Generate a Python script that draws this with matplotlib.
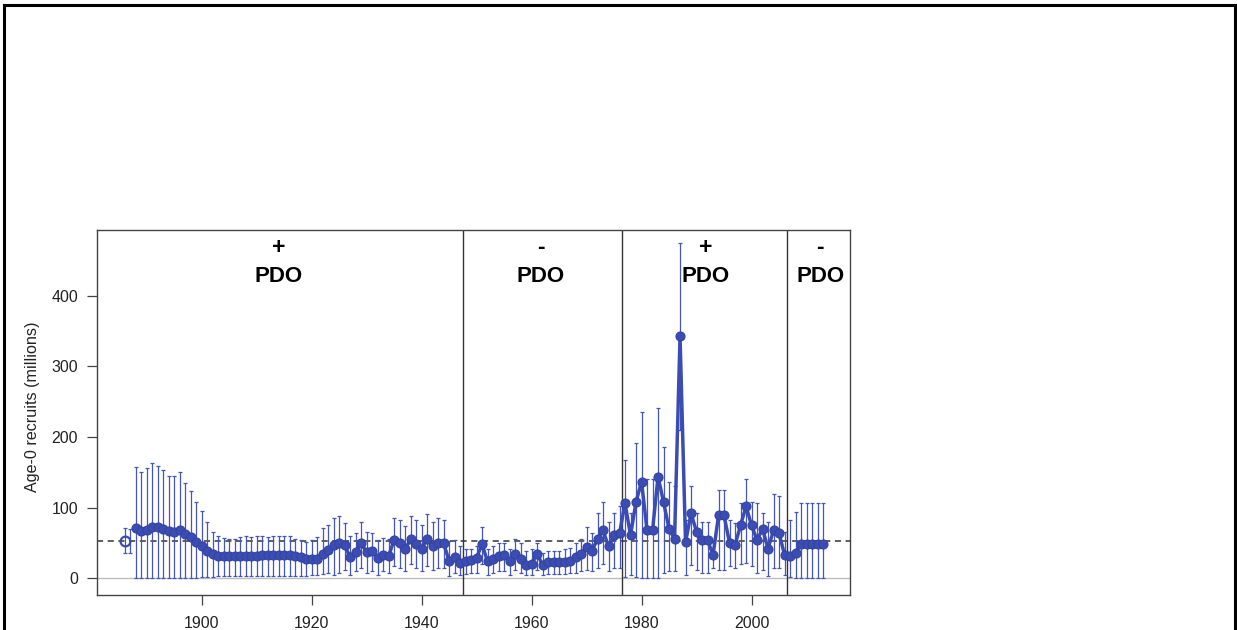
import numpy as np
import matplotlib
matplotlib.use("Agg")
import matplotlib.pyplot as plt
from matplotlib.lines import Line2D

plt.rcParams['font.family'] = ['Liberation Sans', 'DejaVu Sans']

# serie annuale 1888-2013 (milioni di reclute età 0)
years = list(range(1888, 2014))
recruits = [71, 67, 69, 73, 72, 70, 67, 66, 69, 63, 58, 52, 46, 39, 34, 32, 31, 31, 31, 31,
            32, 32, 32, 33, 33, 33, 33, 33, 33, 32, 30, 28, 27, 28, 35, 40, 47, 50, 47, 30,
            37, 50, 37, 38, 29, 33, 31, 54, 50, 41, 55, 48, 42, 55, 45, 50, 50, 25, 30, 22,
            25, 26, 29, 48, 24, 28, 31, 33, 24, 35, 27, 19, 20, 35, 19, 23, 23, 23, 23, 25,
            30, 35, 44, 39, 56, 68, 45, 61, 64, 106, 61, 108, 137, 68, 68, 144, 108, 70, 56, 343,
            51, 92, 66, 54, 54, 33, 89, 89, 50, 47, 75, 102, 75, 54, 70, 42, 68, 64, 33, 31,
            36, 49, 49, 49, 49, 49]
upper = [158, 151, 156, 163, 159, 153, 145, 145, 151, 135, 124, 108, 95, 79, 66, 60, 57, 56, 56, 58,
         60, 59, 60, 60, 59, 60, 60, 60, 60, 56, 54, 52, 54, 59, 71, 76, 86, 88, 78, 60,
         64, 79, 66, 64, 54, 57, 55, 86, 82, 74, 88, 82, 75, 91, 80, 85, 82, 53, 54, 45,
         41, 41, 45, 73, 41, 45, 50, 50, 41, 56, 50, 38, 41, 50, 36, 38, 38, 38, 41, 43,
         50, 56, 73, 64, 92, 108, 79, 92, 102, 167, 92, 192, 236, 141, 141, 241, 186, 137, 130, 475,
         83, 130, 92, 79, 79, 54, 125, 125, 83, 78, 107, 141, 108, 107, 92, 79, 119, 117, 66, 83,
         94, 107, 107, 107, 107, 107]
lower = [1, 1, 1, 1, 1, 1, 1, 1, 1, 1, 1, 1, 2, 2, 2, 3, 3, 3, 3, 3,
         3, 3, 3, 3, 3, 3, 3, 3, 3, 3, 3, 3, 4, 4, 6, 8, 5, 8, 12, 5,
         10, 15, 8, 10, 5, 10, 8, 18, 15, 10, 20, 15, 10, 18, 12, 15, 15, 3, 8, 4,
         6, 7, 8, 20, 5, 8, 10, 10, 5, 12, 8, 4, 5, 12, 4, 6, 6, 6, 6, 7,
         8, 10, 12, 10, 15, 20, 10, 15, 15, 2, 5, 2, 0, 0, 0, 0, 8, 10, 10, 210,
         5, 19, 12, 7, 7, 14, 12, 12, 17, 14, 20, 21, 17, 7, 12, 3, 14, 14, 4, 2,
         0, 0, 0, 0, 0, 0]

# stima isolata (cerchio vuoto) e barra del 1887
open_year = [1886]
open_val = [53]
open_lo = [36]
open_hi = [71]
bar_year = [1887]
bar_lo = [36]
bar_hi = [70]

mean_line = 53
regime_breaks = [1947.5, 1976.5, 2006.5]
regime_sign = ['+', '-', '+', '-']
regime_x = [1914.1, 1961.7, 1991.6, 2012.5]

blue = '#3B4CB4'
blue_bar = '#4656B8'

fig = plt.figure(figsize=(12.37, 6.30), dpi=100)
ax = fig.add_axes([97 / 1237, 1 - 595 / 630, (850 - 97) / 1237, (595 - 230) / 630])

yrs = np.array(years)
val = np.array(recruits)
lo = np.array(lower)
hi = np.array(upper)

ax.axhline(0, color='#bdbdbd', lw=1.0, zorder=1)
ax.axhline(mean_line, color='#333333', lw=1.1, ls=(0, (4, 3)), zorder=1)

for xb in regime_breaks:
    ax.axvline(xb, color='#333333', lw=1.0, zorder=2)

ax.errorbar(yrs, val, yerr=[val - lo, hi - val], fmt='none', ecolor=blue_bar,
            elinewidth=0.9, capsize=1.6, capthick=0.9, zorder=3)
ax.errorbar(bar_year, [bar_hi[0]], yerr=[[bar_hi[0] - bar_lo[0]], [0]], fmt='none',
            ecolor=blue_bar, elinewidth=0.9, capsize=1.6, capthick=0.9, zorder=3)
ax.errorbar(open_year, open_val,
            yerr=[[open_val[0] - open_lo[0]], [open_hi[0] - open_val[0]]], fmt='none',
            ecolor=blue_bar, elinewidth=0.9, capsize=1.6, capthick=0.9, zorder=3)
ax.plot(open_year, open_val, 'o', ms=7, mfc='none', mec=blue, mew=1.6, zorder=4)
ax.plot(yrs, val, '-o', color=blue, lw=2.5, ms=6.5, mfc=blue, mec='#33449f', mew=0.8, zorder=4)

for xs, sg in zip(regime_x, regime_sign):
    ax.text(xs, 468, sg, ha='center', va='center', fontsize=16.5, fontweight='bold')
    ax.text(xs, 428, 'PDO', ha='center', va='center', fontsize=16, fontweight='bold')

ax.set_xlim(1881.0, 2017.9)
ax.set_ylim(-23.7, 493.3)
ax.set_xticks([1900, 1920, 1940, 1960, 1980, 2000])
ax.set_yticks([0, 100, 200, 300, 400])
ax.tick_params(axis='both', direction='out', length=7, width=0.9, color='#444444',
               labelsize=11.5, labelcolor='#222222', pad=6.5)
ax.tick_params(axis='x', pad=8)
for sp in ax.spines.values():
    sp.set_color('#444444')
    sp.set_linewidth(1.0)

ax.set_ylabel('Age-0 recruits (millions)', fontsize=11.6, color='#222222')
ax.yaxis.set_label_coords((40 - 97) / 753, (595 - 407) / 365)

# cornice esterna nera
fig.add_artist(Line2D([4 / 1237, 4 / 1237], [-0.01, 1 - 5 / 630], transform=fig.transFigure,
                      color='black', lw=2.2))
fig.add_artist(Line2D([4 / 1237, 1235 / 1237], [1 - 5 / 630, 1 - 5 / 630],
                      transform=fig.transFigure, color='black', lw=2.2))
fig.add_artist(Line2D([1235 / 1237, 1235 / 1237], [-0.01, 1 - 5 / 630],
                      transform=fig.transFigure, color='black', lw=2.2))

fig.savefig('out.png', dpi=100)
